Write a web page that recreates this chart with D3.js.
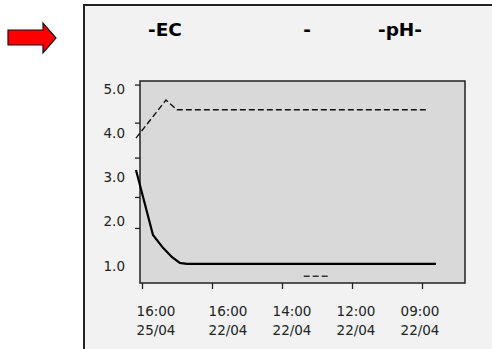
<!DOCTYPE html>
<html>
<head>
<meta charset="utf-8">
<script src="https://cdn.jsdelivr.net/npm/d3@7"></script>
<style>
  body { margin: 0; background: #fff; }
  text { font-family: "DejaVu Sans", sans-serif; fill: #222; }
</style>
</head>
<body>
<div id="chart-area"></div>
<script>
const WIDTH = 492;
const HEIGHT = 349;
const PLOT = { LEFT: 140, RIGHT: 465, TOP: 81, BOTTOM: 283 };

// x positions are in "tick index" units (0 = first date label)
const xTimes = ["16:00", "16:00", "14:00", "12:00", "09:00"];
const xDates = ["25/04", "22/04", "22/04", "22/04", "22/04"];
const yLabels = [5.0, 4.0, 3.0, 2.0, 1.0];
const yTickMarks = [5.1, 4.24, 3.45, 2.56, 1.86];

const ecX = [-0.086, 0.157, 0.30, 0.43, 0.54, 0.64, 4.2];
const ecY = [3.17, 1.70, 1.41, 1.20, 1.07, 1.05, 1.05];
const phX = [-0.086, 0.343, 0.5, 4.086];
const phY = [3.89, 4.75, 4.53, 4.53];
const stubX = [2.31, 2.66];
const stubY = [0.77, 0.77];

const svg = d3.select("#chart-area").append("svg")
  .attr("width", WIDTH)
  .attr("height", HEIGHT);

// outer panel
svg.append("rect")
  .attr("x", 84).attr("y", 5)
  .attr("width", 420).attr("height", 360)
  .attr("fill", "#f2f2f2")
  .attr("stroke", "#222")
  .attr("stroke-width", 2);

// red arrow
svg.append("path")
  .attr("d", "M8,30 L43,30 L43,23 L56,38 L43,53 L43,45 L8,45 Z")
  .attr("fill", "#ff0000")
  .attr("stroke", "#111")
  .attr("stroke-width", 1.2);

// titles
const titles = [
  { t: "-EC", x: 165 },
  { t: "-", x: 307 },
  { t: "-pH-", x: 400 }
];
svg.selectAll(".title").data(titles).enter().append("text")
  .attr("class", "title")
  .attr("x", d => d.x)
  .attr("y", 36)
  .attr("text-anchor", "middle")
  .style("font-size", "18.5px")
  .style("font-weight", "bold")
  .style("fill", "#000")
  .text(d => d.t);

const x = d3.scaleLinear()
  .domain([0, 4])
  .range([142, 422]);

const y = d3.scaleLinear()
  .domain([1, 5])
  .range([266, 89]);

// plot area
svg.append("rect")
  .attr("x", PLOT.LEFT).attr("y", PLOT.TOP)
  .attr("width", PLOT.RIGHT - PLOT.LEFT)
  .attr("height", PLOT.BOTTOM - PLOT.TOP)
  .attr("fill", "#d9d9d9")
  .attr("stroke", "#222")
  .attr("stroke-width", 1.5);

// y tick marks
const yAxisCall = d3.axisLeft(y)
  .tickValues(yTickMarks)
  .tickSize(5)
  .tickFormat("");
svg.append("g")
  .attr("class", "yAxis")
  .attr("transform", `translate(${PLOT.LEFT}, 0)`)
  .call(yAxisCall)
  .call(g => g.select(".domain").remove())
  .call(g => g.selectAll("line").attr("stroke", "#222").attr("stroke-width", 1.3));

svg.selectAll(".yLabel").data(yLabels).enter().append("text")
  .attr("class", "yLabel")
  .attr("x", 125)
  .attr("y", d => y(d))
  .attr("dy", "0.35em")
  .attr("text-anchor", "end")
  .style("font-size", "13.5px")
  .text(d => d.toFixed(1));

// x ticks
const xAxisCall = d3.axisBottom(x)
  .tickValues(d3.range(xTimes.length))
  .tickSize(6)
  .tickFormat("");
svg.append("g")
  .attr("class", "xAxis")
  .attr("transform", `translate(0, ${PLOT.BOTTOM})`)
  .call(xAxisCall)
  .call(g => g.select(".domain").remove())
  .call(g => g.selectAll("line").attr("stroke", "#222").attr("stroke-width", 1.3));

const xLabelOffsets = [14, 16, 10, 4, -2];
const xl = svg.selectAll(".xLabel").data(xTimes).enter().append("text")
  .attr("class", "xLabel")
  .attr("text-anchor", "middle")
  .style("font-size", "13.5px");
xl.append("tspan")
  .attr("x", (d, i) => x(i) + xLabelOffsets[i])
  .attr("y", 316)
  .text(d => d);
xl.append("tspan")
  .attr("x", (d, i) => x(i) + xLabelOffsets[i])
  .attr("y", 335)
  .text((d, i) => xDates[i]);

// lines
const line = d3.line()
  .x(d => x(d[0]))
  .y(d => y(d[1]));

svg.append("path")
  .datum(d3.zip(phX, phY))
  .attr("fill", "none")
  .attr("stroke", "#111")
  .attr("stroke-width", 1.4)
  .attr("stroke-dasharray", "6,3")
  .attr("d", line);

svg.append("path")
  .datum(d3.zip(ecX, ecY))
  .attr("fill", "none")
  .attr("stroke", "#000")
  .attr("stroke-width", 2.2)
  .attr("d", line);

svg.append("path")
  .datum(d3.zip(stubX, stubY))
  .attr("fill", "none")
  .attr("stroke", "#333")
  .attr("stroke-width", 1.4)
  .attr("stroke-dasharray", "6,3")
  .attr("d", line);
</script>
</body>
</html>
